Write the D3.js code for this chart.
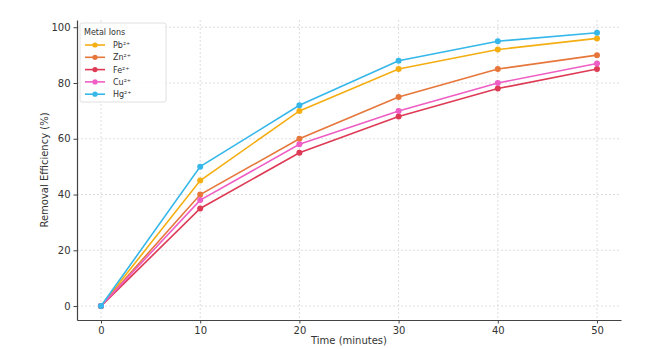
<!DOCTYPE html>
<html>
<head>
<meta charset="utf-8">
<script src="https://cdn.jsdelivr.net/npm/d3@7"></script>
<style>
  html, body { margin: 0; padding: 0; background: #fff; }
  svg { display: block; font-family: "DejaVu Sans", sans-serif; }
</style>
</head>
<body>
<svg id="chart" width="650" height="349"></svg>
<script>
// Removal efficiency of metal ions over time
const times = [0, 10, 20, 30, 40, 50];
const ionNames = ["Pb²⁺", "Zn²⁺", "Fe²⁺", "Cu²⁺", "Hg²⁺"];
const pb = [0, 45, 70, 85, 92, 96];
const zn = [0, 40, 60, 75, 85, 90];
const fe = [0, 35, 55, 68, 78, 85];
const cu = [0, 38, 58, 70, 80, 87];
const hg = [0, 50, 72, 88, 95, 98];
const xTicks = [0, 10, 20, 30, 40, 50];
const yTicks = [0, 20, 40, 60, 80, 100];
const colors = ["#f4ae12", "#e6763a", "#de3a55", "#ee5ec4", "#35b7ea"];

const series = [pb, zn, fe, cu, hg].map((vals, i) => ({
  name: ionNames[i], color: colors[i],
  points: vals.map((v, j) => ({ t: times[j], v }))
}));

const svg = d3.select("#chart");
const plotLeft = 77, plotRight = 621, plotTop = 20, plotBottom = 320;

const x = d3.scaleLinear().domain([-2.42, 52.42]).range([plotLeft, plotRight]);
const y = d3.scaleLinear().domain([-5, 102.6]).range([plotBottom, plotTop]);

// grid
const grid = svg.append("g");
grid.selectAll("line.gx").data(xTicks).join("line")
  .attr("x1", d => x(d)).attr("x2", d => x(d))
  .attr("y1", plotTop).attr("y2", plotBottom)
  .attr("stroke", "#d4d4d4").attr("stroke-width", 0.8).attr("stroke-dasharray", "2,2");
grid.selectAll("line.gy").data(yTicks).join("line")
  .attr("x1", plotLeft).attr("x2", plotRight)
  .attr("y1", d => y(d)).attr("y2", d => y(d))
  .attr("stroke", "#d4d4d4").attr("stroke-width", 0.8).attr("stroke-dasharray", "2,2");

// axes (left and bottom spines only)
const xAxis = svg.append("g").attr("transform", `translate(0,${plotBottom})`)
  .call(d3.axisBottom(x).tickValues(xTicks).tickSizeInner(3.5).tickSizeOuter(0).tickPadding(3));
const yAxis = svg.append("g").attr("transform", `translate(${plotLeft},0)`)
  .call(d3.axisLeft(y).tickValues(yTicks).tickSizeInner(3.5).tickSizeOuter(0).tickPadding(3));
[xAxis, yAxis].forEach(a => {
  a.select(".domain").attr("stroke", "#444").attr("stroke-width", 1.2);
  a.selectAll(".tick line").attr("stroke", "#444");
  a.selectAll(".tick text").attr("fill", "#333").style("font-size", "10px")
    .style("font-family", "DejaVu Sans, sans-serif");
});

svg.append("text").attr("x", (plotLeft + plotRight) / 2).attr("y", 344)
  .attr("text-anchor", "middle").attr("fill", "#333").style("font-size", "10px")
  .text("Time (minutes)");
svg.append("text")
  .attr("transform", `translate(48,${(plotTop + plotBottom) / 2}) rotate(-90)`)
  .attr("text-anchor", "middle").attr("fill", "#333").style("font-size", "10px")
  .text("Removal Efficiency (%)");

// lines and markers
const line = d3.line().x(d => x(d.t)).y(d => y(d.v));
const plot = svg.append("g");
series.forEach(s => {
  plot.append("path").datum(s.points).attr("d", line)
    .attr("fill", "none").attr("stroke", s.color).attr("stroke-width", 1.6);
  plot.selectAll(null).data(s.points).join("circle")
    .attr("cx", d => x(d.t)).attr("cy", d => y(d.v)).attr("r", 3)
    .attr("fill", s.color);
});

// legend
const lg = svg.append("g").attr("transform", "translate(80,23)");
lg.append("rect").attr("width", 86).attr("height", 79).attr("rx", 2)
  .attr("fill", "#fff").attr("fill-opacity", 0.85)
  .attr("stroke", "#d8d8d8").attr("stroke-width", 0.8);
lg.append("text").attr("x", 4).attr("y", 12)
  .attr("fill", "#333").style("font-size", "8px").text("Metal Ions");
series.forEach((s, i) => {
  const yy = 22 + i * 12.3;
  lg.append("line").attr("x1", 5).attr("x2", 25).attr("y1", yy).attr("y2", yy)
    .attr("stroke", s.color).attr("stroke-width", 1.6);
  lg.append("circle").attr("cx", 15).attr("cy", yy).attr("r", 2.6).attr("fill", s.color);
  lg.append("text").attr("x", 33).attr("y", yy + 3).attr("fill", "#333")
    .style("font-size", "8px").text(s.name);
});
</script>
</body>
</html>
